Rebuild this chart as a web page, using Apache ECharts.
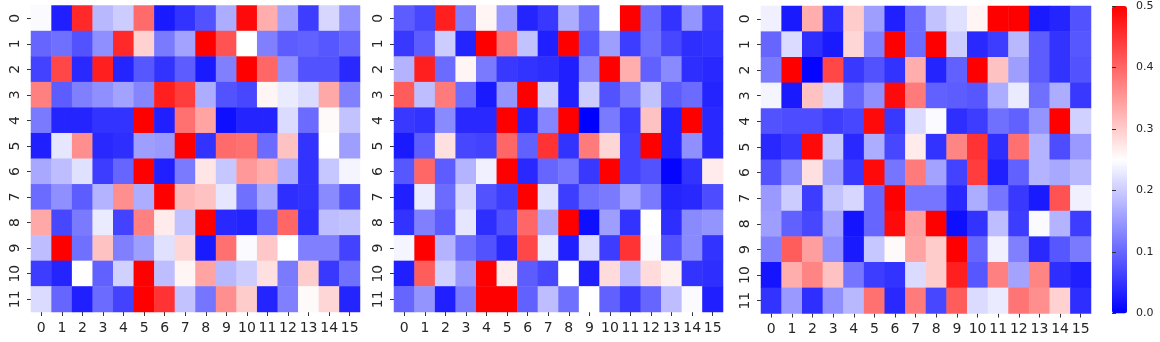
<!DOCTYPE html>
<html><head><meta charset="utf-8">
<style>html,body{margin:0;padding:0;background:#fff}#c{width:1160px;height:342px}</style>
<script src="https://cdn.jsdelivr.net/npm/echarts@6/dist/echarts.min.js"></script>
</head><body><div id="c"></div>
<script>
const xLabels = ['0','1','2','3','4','5','6','7','8','9','10','11','12','13','14','15'];
const yLabels = ['0','1','2','3','4','5','6','7','8','9','10','11'];
const colorTicks = [0,0.1,0.2,0.3,0.4,0.5];
const matrixA = [
[.245,.03,.46,.18,.2,.395,.025,.05,.08,.17,.49,.33,.157,.06,.21,.14],
[.1,.11,.08,.14,.46,.295,.12,.16,.5,.42,.25,.125,.09,.095,.085,.1],
[.065,.43,.04,.47,.035,.085,.05,.09,.025,.125,.5,.4,.14,.08,.08,.04],
[.375,.09,.125,.14,.16,.13,.47,.44,.17,.08,.07,.26,.23,.215,.335,.125],
[.12,.035,.035,.05,.05,.5,.03,.39,.34,.015,.035,.035,.215,.105,.255,.19],
[.03,.225,.36,.04,.045,.155,.15,.5,.05,.395,.39,.105,.31,.05,.25,.155],
[.165,.185,.22,.06,.1,.5,.03,.12,.275,.195,.35,.33,.17,.05,.195,.24],
[.105,.14,.09,.175,.36,.17,.5,.32,.31,.225,.11,.165,.045,.05,.135,.08],
[.335,.07,.12,.23,.065,.375,.27,.19,.5,.04,.035,.1,.4,.045,.185,.19],
[.185,.5,.11,.31,.125,.155,.22,.29,.025,.39,.245,.305,.25,.125,.125,.065],
[.06,.035,.25,.095,.205,.5,.185,.26,.34,.18,.2,.28,.12,.3,.055,.11],
[.215,.1,.03,.105,.065,.5,.45,.19,.115,.36,.3,.035,.125,.255,.29,.035]
];
const matrixB = [
[.09,.07,.47,.125,.26,.15,.035,.055,.17,.11,.25,.5,.105,.05,.145,.055],
[.055,.09,.2,.035,.5,.385,.19,.03,.5,.085,.155,.06,.11,.07,.045,.05],
[.175,.47,.105,.26,.12,.055,.05,.045,.03,.13,.5,.33,.095,.135,.045,.04],
[.41,.185,.38,.105,.025,.145,.5,.205,.03,.2,.08,.12,.19,.09,.105,.035],
[.055,.05,.135,.04,.04,.5,.035,.13,.5,0,.12,.06,.31,.035,.5,.04],
[.025,.09,.28,.07,.065,.4,.095,.45,.05,.38,.29,.065,.5,.035,.14,.04],
[.085,.4,.09,.175,.235,.5,.04,.1,.115,.055,.5,.065,.08,.005,.05,.27],
[.03,.23,.105,.21,.08,.06,.5,.22,.06,.11,.12,.16,.12,.035,.04,.075],
[.05,.125,.09,.225,.045,.08,.4,.165,.5,.015,.155,.05,.25,.045,.135,.145],
[.24,.5,.175,.11,.08,.04,.43,.23,.03,.215,.06,.45,.245,.08,.135,.05],
[.03,.41,.205,.15,.5,.27,.09,.07,.25,.03,.285,.175,.285,.265,.05,.045],
[.1,.145,.03,.12,.5,.5,.095,.185,.11,.25,.095,.055,.1,.185,.245,.03]
];
const matrixC = [
[.235,.025,.33,.045,.3,.155,.03,.105,.19,.22,.26,.5,.5,.025,.035,.08],
[.1,.215,.045,.025,.29,.125,.5,.105,.5,.2,.04,.06,.18,.09,.05,.085],
[.12,.5,.005,.43,.055,.08,.05,.33,.035,.095,.5,.31,.155,.09,.05,.08],
[.24,.025,.31,.21,.1,.14,.49,.38,.095,.09,.085,.17,.23,.11,.17,.055],
[.08,.075,.075,.06,.07,.49,.055,.215,.245,.045,.06,.11,.095,.145,.5,.205],
[.04,.055,.49,.195,.04,.17,.07,.27,.05,.37,.45,.045,.39,.175,.075,.15],
[.08,.135,.28,.155,.055,.49,.115,.38,.16,.065,.44,.03,.095,.175,.165,.18],
[.15,.2,.06,.19,.21,.1,.5,.115,.115,.04,.17,.115,.055,.025,.42,.235],
[.155,.095,.07,.16,.02,.1,.49,.345,.5,.015,.05,.185,.06,.245,.175,.06],
[.125,.41,.345,.14,.025,.195,.255,.34,.3,.5,.1,.235,.125,.04,.085,.12],
[.02,.33,.37,.31,.115,.06,.05,.215,.3,.47,.085,.375,.16,.37,.045,.03],
[.05,.15,.045,.14,.18,.39,.04,.38,.07,.41,.215,.23,.385,.36,.295,.045]
];
const matrices = [matrixA, matrixB, matrixC];
const panelLeft = [31, 394, 761];
const panelRight = [360, 723, 1091];
const panelTop = [5.5, 5.5, 6];
const panelBottom = [312, 312, 313.5];
const font = 'DejaVu Sans', ink = '#262626';
const tick = {show:true, alignWithLabel:true, length:4, lineStyle:{color:'#333', width:1}};
const grids=[], xAxes=[], yAxes=[], series=[];
matrices.forEach((m,i)=>{
  grids.push({left:panelLeft[i], top:panelTop[i], width:panelRight[i]-panelLeft[i], height:panelBottom[i]-panelTop[i]});
  xAxes.push({type:'category', gridIndex:i, data:xLabels, axisLine:{show:false}, axisTick:tick, splitLine:{show:false},
    axisLabel:{interval:0, hideOverlap:false, fontFamily:font, fontSize:14, color:ink, margin:9}});
  yAxes.push({type:'category', gridIndex:i, data:yLabels, inverse:true, axisLine:{show:false}, axisTick:tick, splitLine:{show:false},
    axisLabel:{interval:0, hideOverlap:false, rotate:90, fontFamily:font, fontSize:14, color:ink, margin:9}});
  const pts=[]; m.forEach((r,y)=>r.forEach((v,x)=>pts.push([x,y,v])));
  series.push({type:'heatmap', xAxisIndex:i, yAxisIndex:i, data:pts, progressive:0, animation:false, emphasis:{disabled:true}});
});
// colour bar axis
const barLeft = 1112, barW = 15, barTop = 6, barH = 307.5;
grids.push({left:barLeft, top:barTop, width:barW, height:barH});
xAxes.push({type:'value', gridIndex:3, show:false, min:0, max:1});
yAxes.push({type:'value', gridIndex:3, position:'right', min:0, max:colorTicks[colorTicks.length-1], interval:0.1,
  axisLine:{show:false}, axisTick:{show:true, length:4, lineStyle:{color:'#333', width:1}}, splitLine:{show:false},
  axisLabel:{fontFamily:font, fontSize:11, color:ink, margin:9, formatter:v=>v.toFixed(1)}, z:10});
const chart = echarts.init(document.getElementById('c'), null, {renderer:'canvas'});
chart.setOption({
  animation:false, backgroundColor:'#fff',
  grid:grids, xAxis:xAxes, yAxis:yAxes, series:series,
  visualMap:{type:'continuous', min:0, max:0.5, seriesIndex:[0,1,2], calculable:false, realtime:false, hoverLink:false,
    left:barLeft, top:barTop, itemWidth:barW, itemHeight:barH, padding:0, showLabel:false,
    textStyle:{color:'transparent', fontSize:1},
    inRange:{color:['#0000ff','#ffffff','#ff0000']}}
});
</script></body></html>
